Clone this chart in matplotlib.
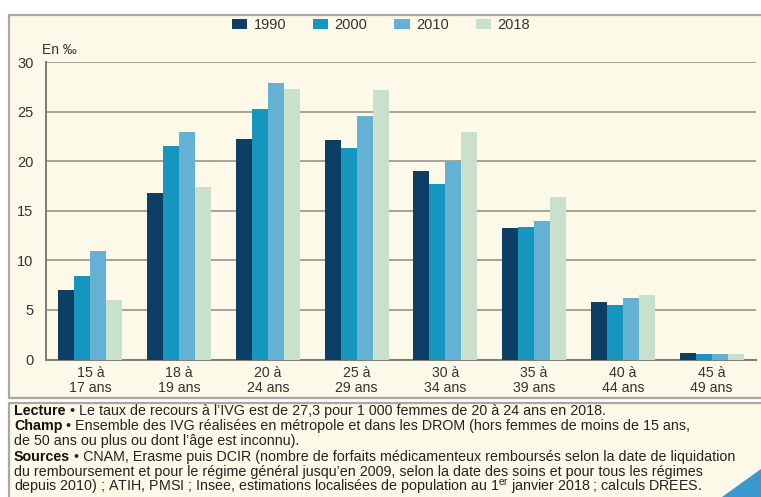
import matplotlib
matplotlib.use("Agg")
import matplotlib.pyplot as plt
from matplotlib.patches import Rectangle, Polygon, Patch
import numpy as np

plt.rcParams['font.family'] = ['Liberation Sans', 'DejaVu Sans']
plt.rcParams['mathtext.fontset'] = 'custom'
plt.rcParams['mathtext.rm'] = 'Liberation Sans'

# ---- data ----
categories = ["15 à\n17 ans", "18 à\n19 ans", "20 à\n24 ans", "25 à\n29 ans",
              "30 à\n34 ans", "35 à\n39 ans", "40 à\n44 ans", "45 à\n49 ans"]
years = ["1990", "2000", "2010", "2018"]
v1990 = [7.0, 16.8, 22.2, 22.1, 19.0, 13.3, 5.8, 0.7]
v2000 = [8.4, 21.5, 25.3, 21.3, 17.7, 13.4, 5.5, 0.6]
v2010 = [10.9, 22.9, 27.9, 24.6, 20.0, 14.0, 6.2, 0.6]
v2018 = [6.0, 17.4, 27.3, 27.2, 22.9, 16.4, 6.5, 0.6]
series = [v1990, v2000, v2010, v2018]
yticks = [0, 5, 10, 15, 20, 25, 30]
unit_label = "En ‰"
note_lines = [
    ("Lecture", " • Le taux de recours à l’IVG est de 27,3 pour 1 000 femmes de 20 à 24 ans en 2018."),
    ("Champ", " • Ensemble des IVG réalisées en métropole et dans les DROM (hors femmes de moins de 15 ans,"),
    ("", "de 50 ans ou plus ou dont l’âge est inconnu)."),
    ("Sources", " • CNAM, Erasme puis DCIR (nombre de forfaits médicamenteux remboursés selon la date de liquidation"),
    ("", "du remboursement et pour le régime général jusqu’en 2009, selon la date des soins et pour tous les régimes"),
    ("", "depuis 2010) ; ATIH, PMSI ; Insee, estimations localisées de population au 1$^{\\rm er}$ janvier 2018 ; calculs DREES."),
]

colors = ["#0C3E66", "#1596BE", "#64B1D4", "#C8E0CC"]
panel_bg = "#FDF9E8"
W, H = 761, 497

def fx(px):
    return px / W

def fy(py):
    return 1 - py / H

fig = plt.figure(figsize=(W / 100, H / 100), dpi=100, facecolor="white")

# panels
fig.patches.append(Rectangle((fx(9), fy(397.5)), fx(780) - fx(9), fy(15) - fy(397.5),
                             transform=fig.transFigure, facecolor=panel_bg,
                             edgecolor="#A8A8A8", lw=1.6, zorder=0))
fig.patches.append(Rectangle((fx(9), fy(520)), fx(780) - fx(9), fy(402.5) - fy(520),
                             transform=fig.transFigure, facecolor=panel_bg,
                             edgecolor="#A8A8A8", lw=1.6, zorder=0))

ax = fig.add_axes([fx(46), fy(359.5), fx(756) - fx(46), fy(62) - fy(359.5)])
ax.set_zorder(2)
ax.set_facecolor("none")
x = np.arange(len(categories))
bw = 0.18
for j, (vals, c) in enumerate(zip(series, colors)):
    ax.bar(x + (j - 1.5) * bw, vals, width=bw, color=c, lw=0, zorder=3)

ax.set_xlim(-0.5, len(categories) - 0.5)
ax.set_ylim(0, 30)
ax.set_yticks(yticks)
ax.set_yticklabels([str(t) for t in yticks])
ax.set_xticks(x)
ax.set_xticklabels(categories, linespacing=1.03)
ax.tick_params(axis="y", length=0, pad=9, labelsize=10.5, labelcolor="#333333")
ax.tick_params(axis="x", length=0, pad=5, labelsize=10.2, labelcolor="#333333")
ax.yaxis.grid(True, color="#A8A397", lw=1.4)
ax.set_axisbelow(True)
for s in ["top", "right"]:
    ax.spines[s].set_visible(False)
for s in ["left", "bottom"]:
    ax.spines[s].set_color("#7A7A7A")
    ax.spines[s].set_linewidth(1.4)

fig.text(fx(42), fy(50), unit_label, va="center", ha="left", fontsize=10, color="#333333",
         zorder=3)

handles = [Patch(facecolor=c, edgecolor="none", label=y) for c, y in zip(colors, years)]
leg = fig.legend(handles=handles, loc="center left", bbox_to_anchor=(fx(232), fy(25)),
                 ncol=4, frameon=False, fontsize=10.5, handlelength=1.05, handleheight=0.7,
                 handletextpad=0.42, columnspacing=1.85, borderpad=0, borderaxespad=0,
                 labelcolor="#333333")
leg.set_zorder(3)

# notes
fs = 10.3
y0 = 411
dy = 15.2
for i, (bold, rest) in enumerate(note_lines):
    yy = fy(y0 + i * dy)
    if bold:
        t = fig.text(fx(14), yy, bold, fontsize=fs, fontweight="bold", color="#111111",
                     va="center", ha="left", zorder=3)
        ax.annotate(rest, xy=(1, 0.5), xycoords=t, va="center", ha="left",
                    fontsize=fs, color="#222222", annotation_clip=False)
    else:
        fig.text(fx(14), yy, rest, fontsize=fs, color="#222222", va="center", ha="left",
                 zorder=3)

fig.patches.append(Polygon([(fx(722), fy(497)), (fx(761), fy(497)), (fx(761), fy(469))],
                           closed=True, transform=fig.transFigure,
                           facecolor="#3A98CF", edgecolor="none", zorder=4))

fig.savefig("out.png", dpi=100, facecolor="white")
